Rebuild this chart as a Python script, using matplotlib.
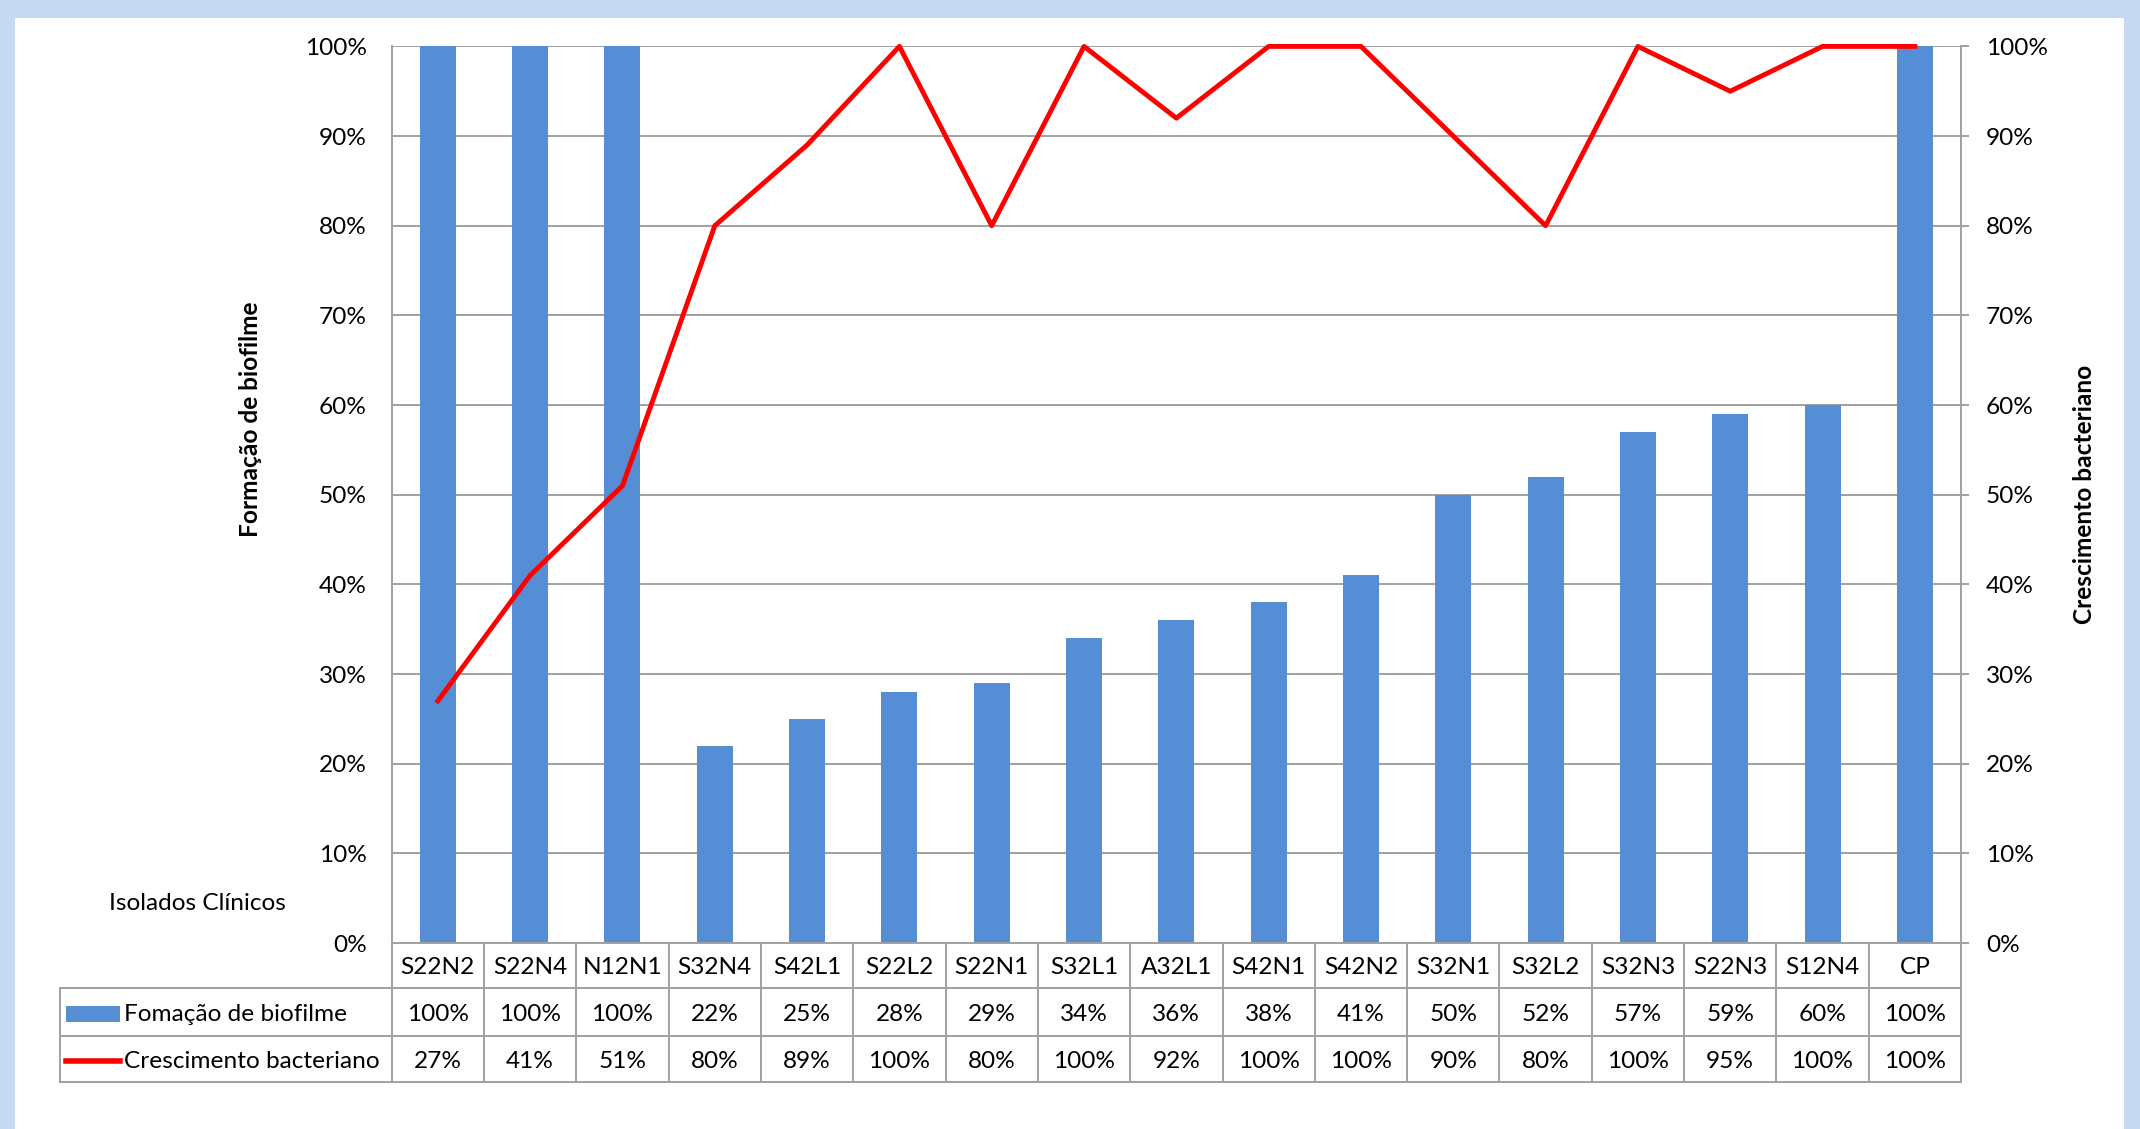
import matplotlib
matplotlib.use("Agg")
import matplotlib.pyplot as plt
from matplotlib.patches import Rectangle
from matplotlib.lines import Line2D
from matplotlib.ticker import PercentFormatter
from matplotlib.transforms import blended_transform_factory

plt.rcParams['font.family'] = ['Lato', 'DejaVu Sans']

# data
isolados = ["S22N2", "S22N4", "N12N1", "S32N4", "S42L1", "S22L2", "S22N1", "S32L1", "A32L1",
            "S42N1", "S42N2", "S32N1", "S32L2", "S32N3", "S22N3", "S12N4", "CP"]
biofilme = [100, 100, 100, 22, 25, 28, 29, 34, 36, 38, 41, 50, 52, 57, 59, 60, 100]
crescimento = [27, 41, 51, 80, 89, 100, 80, 100, 92, 100, 100, 90, 80, 100, 95, 100, 100]

W, H = 2140, 1129
BLUE = "#558ED5"
GRID = "#A0A0A0"
FS = 17.6


def fx(px):
    return px / W


def fy(py):
    return 1 - py / H


fig = plt.figure(figsize=(W / 100, H / 100), dpi=100, facecolor="#C6D9F0")
fig.patches.append(Rectangle((fx(15), 0), fx(2124) - fx(15), fy(17.5), transform=fig.transFigure,
                             facecolor="white", edgecolor="none", zorder=-5))

L, R, T, B = 391.7, 1961, 46.4, 943
ax = fig.add_axes([fx(L), fy(B), fx(R) - fx(L), fy(T) - fy(B)])
ax.set_facecolor("none")
x = list(range(len(isolados)))
ax.bar(x, [v / 100 for v in biofilme], width=0.39, color=BLUE, zorder=2)
ax.set_xlim(-0.5, len(isolados) - 0.5)
ax.set_ylim(0, 1)
ax.set_yticks([i / 10 for i in range(11)])
ax.yaxis.set_major_formatter(PercentFormatter(1.0, decimals=0))
ax.set_xticks([])
ax.grid(axis="y", color=GRID, linewidth=1.4)
ax.set_axisbelow(True)
ax.tick_params(axis="y", length=0, pad=18, labelsize=FS)
for s in ["top", "right"]:
    ax.spines[s].set_visible(False)
for s in ["left", "bottom"]:
    ax.spines[s].set_color(GRID)
    ax.spines[s].set_linewidth(1.4)

ax2 = ax.twinx()
ax2.plot(x, [v / 100 for v in crescimento], color="#FF0000", linewidth=3.5, clip_on=False, zorder=3)
ax2.set_ylim(0, 1)
ax2.set_yticks([i / 10 for i in range(11)])
ax2.yaxis.set_major_formatter(PercentFormatter(1.0, decimals=0))
ax2.tick_params(axis="y", length=6, width=1.4, color=GRID, pad=12, labelsize=FS)
for s in ["top", "left", "bottom"]:
    ax2.spines[s].set_visible(False)
ax2.spines["right"].set_color(GRID)
ax2.spines["right"].set_linewidth(1.4)

# axis titles
fig.text(fx(250), fy(419), "Formação de biofilme", rotation=90, ha="center", va="center",
         fontsize=FS, fontweight="bold")
fig.text(fx(2084), fy(494), "Crescimento bacteriano", rotation=90, ha="center", va="center",
         fontsize=FS, fontweight="bold")
fig.text(fx(109), fy(903), "Isolados Clínicos", ha="left", va="center", fontsize=FS)

# data table
tr = blended_transform_factory(ax.transData, fig.transFigure)
rows_y = [943, 988, 1036, 1082]
tl = 60
lw = 1.4
for yy in rows_y[1:]:
    fig.add_artist(Line2D([fx(tl), fx(R)], [fy(yy), fy(yy)], color=GRID, linewidth=lw))
fig.add_artist(Line2D([fx(tl), fx(tl)], [fy(rows_y[1]), fy(rows_y[3])], color=GRID, linewidth=lw))
for i in range(len(isolados) + 1):
    fig.add_artist(Line2D([i - 0.5, i - 0.5], [fy(rows_y[0]), fy(rows_y[3])], transform=tr,
                          color=GRID, linewidth=lw))

centers = [(rows_y[k] + rows_y[k + 1]) / 2 + 2.5 for k in range(3)]
for i, name in enumerate(isolados):
    fig.text(i, fy(centers[0]), name, transform=tr, ha="center", va="center", fontsize=FS)
    fig.text(i, fy(centers[1]), f"{biofilme[i]}%", transform=tr, ha="center", va="center", fontsize=FS)
    fig.text(i, fy(centers[2]), f"{crescimento[i]}%", transform=tr, ha="center", va="center", fontsize=FS)

fig.patches.append(Rectangle((fx(66), fy(centers[1] + 7)), fx(120) - fx(66), fy(centers[1] - 9) - fy(centers[1] + 7),
                             transform=fig.transFigure, facecolor=BLUE, edgecolor="none"))
fig.text(fx(124), fy(centers[1]), "Fomação de biofilme", ha="left", va="center", fontsize=FS)
fig.add_artist(Line2D([fx(66), fx(120)], [fy(centers[2] - 1), fy(centers[2] - 1)], color="#FF0000", linewidth=4))
fig.text(fx(124), fy(centers[2]), "Crescimento bacteriano", ha="left", va="center", fontsize=FS)

fig.savefig("out.png", dpi=100, facecolor=fig.get_facecolor())
